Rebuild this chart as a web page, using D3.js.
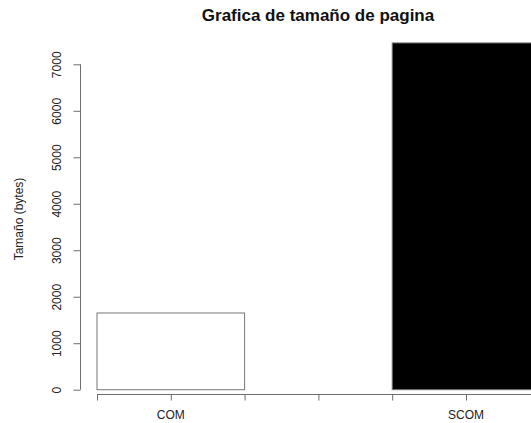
<!DOCTYPE html>
<html>
<head>
<meta charset="utf-8">
<script src="https://cdn.jsdelivr.net/npm/d3@7"></script>
<style>
  html, body { margin: 0; padding: 0; background: #fff; }
  svg { display: block; font-family: "Liberation Sans", Arial, Helvetica, sans-serif; }
</style>
</head>
<body>
<svg id="chart" width="531" height="423"></svg>
<script>
// ---- data ----
const categories = ["COM", "SCOM"];
const values = [1650, 7460];
const fills = ["#ffffff", "#000000"];
const yTicks = [0, 1000, 2000, 3000, 4000, 5000, 6000, 7000];
const xTicks = [1, 1.5, 2, 2.5, 3, 3.5, 4];
const title = "Grafica de tamaño de pagina";
const yLabel = "Tamaño (bytes)";

const svg = d3.select("#chart");

// R barplot style user coordinates: bar i spans [2i+1, 2i+2]
const x = d3.scaleLinear().domain([1, 4]).range([97, 539.8]);
const y = d3.scaleLinear().domain([0, 7000]).range([389.7, 64.3]);

const axisColor = "#6e6e6e";

// bars
svg.append("g").selectAll("rect")
  .data(values)
  .join("rect")
  .attr("x", (d, i) => x(2 * i + 1))
  .attr("width", (d, i) => x(2 * i + 2) - x(2 * i + 1))
  .attr("y", d => y(d))
  .attr("height", d => y(0) - y(d))
  .attr("fill", (d, i) => fills[i])
  .attr("stroke", "#777")
  .attr("stroke-width", 1);

// y axis
const yAxis = d3.axisLeft(y).tickValues(yTicks).tickSize(7).tickPadding(4).tickFormat(d3.format("d"));
const gy = svg.append("g").attr("transform", "translate(80.5,0)").call(yAxis);
gy.select(".domain").attr("stroke", axisColor).attr("d", `M0,${y(0)}V${y(7000)}`);
gy.selectAll(".tick line").attr("stroke", axisColor);
gy.selectAll(".tick text")
  .attr("transform", "rotate(-90)")
  .attr("x", 0)
  .attr("y", -20)
  .attr("dy", null)
  .attr("text-anchor", "middle")
  .attr("fill", "#222")
  .style("font-size", "12px");

// x axis
const xAxis = d3.axisBottom(x).tickValues(xTicks).tickSize(6).tickFormat("");
const gx = svg.append("g").attr("transform", "translate(0,394.5)").call(xAxis);
gx.select(".domain").attr("d", `M${x(1)},0H${x(4)}`).attr("stroke", axisColor);
gx.selectAll(".tick line").attr("stroke", axisColor);

// category labels
svg.append("g").selectAll("text")
  .data(categories)
  .join("text")
  .attr("x", (d, i) => x(2 * i + 1.5))
  .attr("y", 419)
  .attr("text-anchor", "middle")
  .attr("fill", "#222")
  .style("font-size", "12px")
  .text(d => d);

// title
svg.append("text")
  .attr("x", 318)
  .attr("y", 21)
  .attr("text-anchor", "middle")
  .attr("font-weight", "bold")
  .attr("fill", "#111")
  .style("font-size", "17px")
  .text(title);

// y label
svg.append("text")
  .attr("transform", "translate(23,219) rotate(-90)")
  .attr("text-anchor", "middle")
  .attr("fill", "#222")
  .style("font-size", "12px")
  .text(yLabel);
</script>
</body>
</html>
